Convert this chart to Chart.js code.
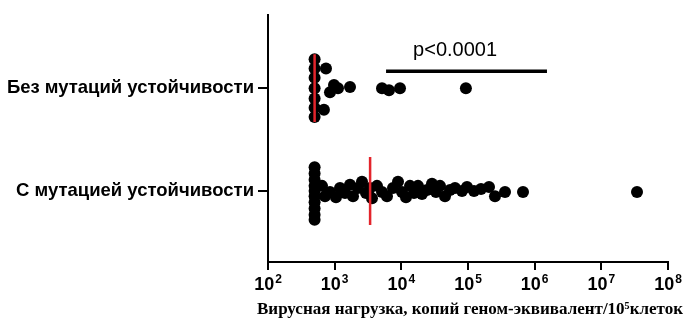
<!DOCTYPE html>
<html>
<head>
<meta charset="utf-8">
<script src="https://cdn.jsdelivr.net/npm/chart.js@4.4.1/dist/chart.umd.min.js"></script>
<style>
html,body{margin:0;padding:0;background:#fff;}
#wrap{width:687px;height:322px;}
</style>
</head>
<body>
<div id="wrap"><canvas id="c" width="687" height="322"></canvas></div>
<script>
// ---- data ----
const categories = ['Без мутаций устойчивости', 'С мутацией устойчивости'];
const categoryPos = [2, 1];

// Group 1: without resistance mutations (copies / 10^5 cells)
const noMutValues = [500, 500, 500, 500, 500, 500, 500, 741, 690, 851, 977, 1122, 1698, 5129, 6530, 9550, 93000];
const noMutJitter = [0.28, 0.19, 0.10, 0.00, -0.10, -0.19, -0.28, 0.19, -0.21, -0.04, 0.03, 0.00, 0.01, 0.00, -0.02, 0.00, 0.00];

// Group 2: with resistance mutation
const mutValues = [500, 500, 500, 500, 500, 500, 500, 500, 500, 500,
  646, 716, 851, 1047, 1202, 1429, 1698, 1884, 2239, 2570, 2951, 3388, 3631, 4315, 5129, 6095,
  7499, 8913, 10233, 11749, 13490, 15488, 17783, 20417, 24266, 28840, 33113, 38019, 45186,
  53703, 63826, 81283, 96605, 123027, 156675, 206538, 254097, 358922, 668344, 34276800];
const mutJitter = [0.23, 0.17, 0.11, 0.05, 0.00, -0.05, -0.11, -0.17, -0.23, -0.28,
  0.05, -0.05, -0.01, -0.06, 0.03, -0.02, 0.06, -0.05, 0.03, 0.09, -0.02, 0.03, -0.07, 0.05, -0.01, -0.05,
  0.03, 0.09, -0.01, -0.06, 0.05, -0.02, 0.05, -0.03, 0.01, 0.07, -0.01, 0.05, -0.05,
  0.01, 0.03, 0.00, 0.04, 0.00, 0.02, 0.04, -0.05, -0.01, -0.01, -0.01];

const medians = [500, 3400];
const xTicks = [1e2, 1e3, 1e4, 1e5, 1e6, 1e7, 1e8];
const sigRange = [5900, 1530000];
const pText = 'p<0.0001';
const pTextAt = 64000;
const xTitle = 'Вирусная нагрузка, копий геном-эквивалент/10⁵клеток';

// ---- build ----
const toPts = (vals, jit, pos) => vals.map((v, i) => ({x: v, y: pos + jit[i]}));
const medHalf = 0.33;

const textPlugin = {
  id: 'extraText',
  afterDraw(chart) {
    const {ctx, scales, chartArea} = chart;
    ctx.save();
    ctx.fillStyle = '#000';
    // p-value label
    ctx.font = '20px "Liberation Sans", Arial, sans-serif';
    ctx.textAlign = 'center';
    ctx.textBaseline = 'middle';
    ctx.fillText(pText, scales.x.getPixelForValue(pTextAt), scales.y.getPixelForValue(categoryPos[0] + 0.37));
    // axis title
    ctx.font = 'bold 17px "Liberation Serif", "Times New Roman", serif';
    ctx.fillText(xTitle, (chartArea.left + chartArea.right) / 2 + 2, scales.x.bottom - 12);
    // x tick labels 10^n with superscript
    const base = 'bold 18px "Liberation Sans", Arial, sans-serif';
    const expF = 'bold 12px "Liberation Sans", Arial, sans-serif';
    const baseY = scales.x.bottom - 32;
    ctx.textBaseline = 'alphabetic';
    ctx.textAlign = 'left';
    xTicks.forEach(v => {
      const e = String(Math.round(Math.log10(v)));
      ctx.font = base; const w1 = ctx.measureText('10').width;
      ctx.font = expF; const w2 = ctx.measureText(e).width;
      const x0 = scales.x.getPixelForValue(v) - (w1 + w2 + 1) / 2;
      ctx.font = base; ctx.fillText('10', x0, baseY);
      ctx.font = expF; ctx.fillText(e, x0 + w1 + 1, baseY - 7);
    });
    ctx.restore();
  }
};

new Chart(document.getElementById('c'), {
  type: 'scatter',
  data: {
    datasets: [
      {type: 'line', data: [{x: medians[0], y: categoryPos[0] + medHalf}, {x: medians[0], y: categoryPos[0] - medHalf}],
        borderColor: '#e3242b', borderWidth: 2.5, pointRadius: 0, order: 0},
      {type: 'line', data: [{x: medians[1], y: categoryPos[1] + medHalf}, {x: medians[1], y: categoryPos[1] - medHalf}],
        borderColor: '#e3242b', borderWidth: 2.5, pointRadius: 0, order: 0},
      {type: 'line', data: [{x: sigRange[0], y: categoryPos[0] + 0.165}, {x: sigRange[1], y: categoryPos[0] + 0.165}],
        borderColor: '#000', borderWidth: 3.5, pointRadius: 0, order: 0},
      {data: toPts(noMutValues, noMutJitter, categoryPos[0]), backgroundColor: '#000', borderColor: '#000',
        borderWidth: 0, pointRadius: 6, order: 1},
      {data: toPts(mutValues, mutJitter, categoryPos[1]), backgroundColor: '#000', borderColor: '#000',
        borderWidth: 0, pointRadius: 6, order: 1}
    ]
  },
  options: {
    responsive: false,
    animation: false,
    events: [],
    layout: {padding: {left: 0, right: 19, top: 15, bottom: 0}},
    plugins: {legend: {display: false}, tooltip: {enabled: false}},
    scales: {
      x: {
        type: 'logarithmic',
        min: 1e2, max: 1e8,
        afterBuildTicks: s => { s.ticks = xTicks.map(v => ({value: v})); },
        afterFit: s => { s.height = 60; },
        grid: {drawOnChartArea: false, drawTicks: true, tickLength: 8, color: '#000', lineWidth: 2},
        border: {display: true, color: '#000', width: 2},
        ticks: {display: false}
      },
      y: {
        type: 'linear',
        min: 0.31, max: 2.71,
        afterBuildTicks: s => { s.ticks = categoryPos.map(v => ({value: v})); },
        afterFit: s => { s.width = 268; },
        grid: {drawOnChartArea: false, drawTicks: true, tickLength: 10, color: '#000', lineWidth: 2},
        border: {display: true, color: '#000', width: 2},
        ticks: {
          color: '#000', padding: 4, autoSkip: false,
          font: {family: '"Liberation Sans", Arial, sans-serif', size: 18.5, weight: 'bold'},
          callback: v => categories[categoryPos.indexOf(v)]
        }
      }
    }
  },
  plugins: [textPlugin]
});
</script>
</body>
</html>
